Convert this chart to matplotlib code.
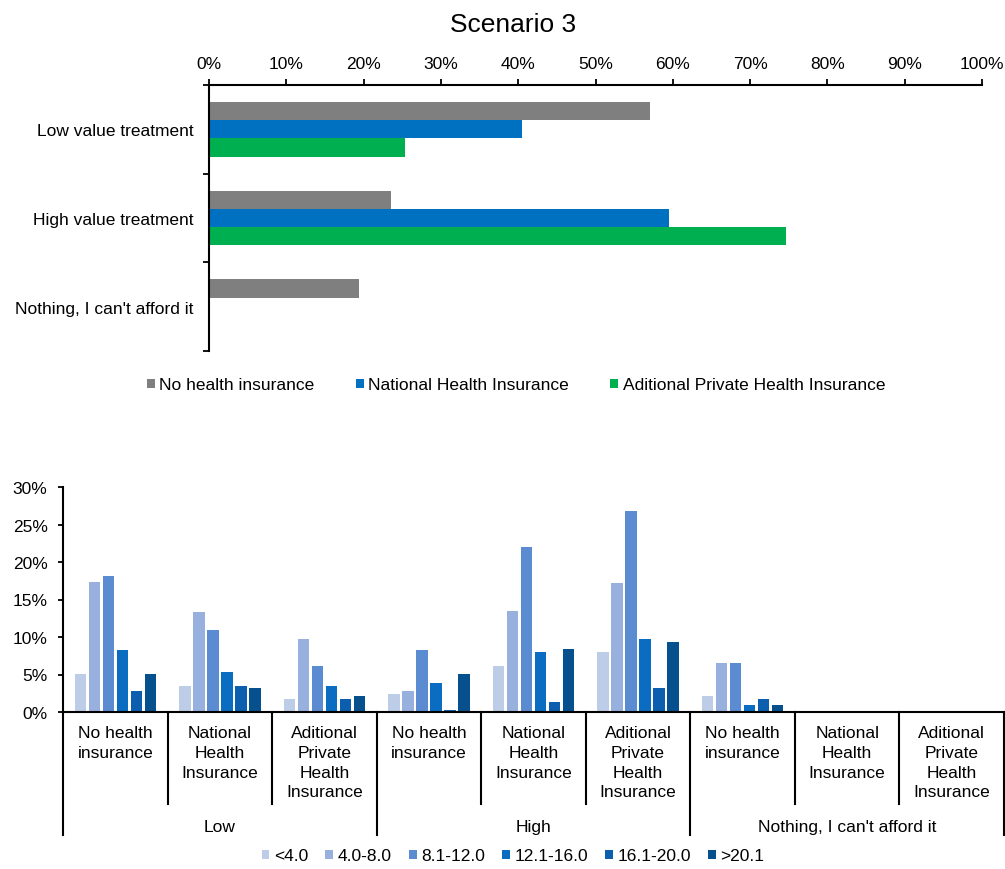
import matplotlib.pyplot as plt
import matplotlib.transforms as mtransforms
from matplotlib.ticker import PercentFormatter
import numpy as np

plt.rcParams['font.family'] = ['Liberation Sans', 'DejaVu Sans']
plt.rcParams['font.size'] = 12.5

# 上图数据 (%)
treatments = ['Low value treatment', 'High value treatment', "Nothing, I can't afford it"]
insurance = ['No health insurance', 'National Health Insurance', 'Aditional Private Health Insurance']
noInsurance = [57.0, 23.6, 19.4]
nationalInsurance = [40.5, 59.5, 0]
privateInsurance = [25.4, 74.6, 0]
topColors = ['#7F7F7F', '#0070C0', '#00B050']

# 下图数据 (%)
levels = ['Low', 'High', "Nothing, I can't afford it"]
subLabels = ['No health\ninsurance', 'National\nHealth\nInsurance', 'Aditional\nPrivate\nHealth\nInsurance']
bands = ['<4.0', '4.0-8.0', '8.1-12.0', '12.1-16.0', '16.1-20.0', '>20.1']
band1 = [5.1, 3.5, 1.7, 2.4, 6.1, 8.0, 2.1, 0, 0]
band2 = [17.4, 13.4, 9.7, 2.8, 13.5, 17.2, 6.5, 0, 0]
band3 = [18.2, 10.9, 6.1, 8.3, 22.0, 26.8, 6.5, 0, 0]
band4 = [8.3, 5.3, 3.5, 3.9, 8.0, 9.8, 1.0, 0, 0]
band5 = [2.8, 3.5, 1.7, 0.3, 1.4, 3.2, 1.7, 0, 0]
band6 = [5.1, 3.2, 2.1, 5.1, 8.4, 9.4, 1.0, 0, 0]
bandColors = ['#BDCDE8', '#97B0DD', '#5B8BD0', '#0A6DC2', '#0C5FAE', '#07508E']

W, H = 1005, 870
fig = plt.figure(figsize=(W / 100, H / 100), dpi=100)

# ---------- 上图 ----------
ax1 = fig.add_axes([209 / W, 1 - 352 / H, (982 - 209) / W, (352 - 86) / H])
y = np.arange(len(treatments))
h = 0.205
series = [noInsurance, nationalInsurance, privateInsurance]
handles1 = []
for k in range(3):
    b = ax1.barh(y + (k - 1) * h, series[k], height=h, color=topColors[k], label=insurance[k])
    handles1.append(b)
ax1.set_xlim(0, 100)
ax1.set_ylim(2.5, -0.5)
ax1.xaxis.tick_top()
ax1.set_xticks(np.arange(0, 101, 10))
ax1.xaxis.set_major_formatter(PercentFormatter(xmax=100, decimals=0))
ax1.set_yticks([-0.5, 0.5, 1.5, 2.5])
ax1.set_yticklabels([])
ax1.set_yticks(y, minor=True)
ax1.set_yticklabels(treatments, minor=True)
ax1.tick_params(axis='y', which='minor', length=0, pad=11)
ax1.tick_params(axis='y', which='major', length=4, width=1.3, direction='out')
ax1.tick_params(axis='x', length=4, width=1.3, direction='out', pad=6)
for s in ['right', 'bottom']:
    ax1.spines[s].set_visible(False)
for s in ['top', 'left']:
    ax1.spines[s].set_linewidth(1.5)

fig.text(513 / W, 1 - 25 / H, 'Scenario 3', fontsize=19, ha='center', va='center')
fig.legend(handles=handles1, labels=insurance, loc='center', bbox_to_anchor=(516 / W, 1 - 386 / H),
           ncol=3, frameon=False, handlelength=0.45, handleheight=0.45, handletextpad=0.25,
           columnspacing=2.4, fontsize=12.5)

# ---------- 下图 ----------
ax2 = fig.add_axes([63 / W, 1 - 713 / H, (1004 - 63) / W, (713 - 488) / H])
x = np.arange(9)
w = 0.134
bandValues = [band1, band2, band3, band4, band5, band6]
handles2 = []
for k in range(6):
    b = ax2.bar(x + (k - 2.5) * w, bandValues[k], width=w * 0.82, color=bandColors[k],
                linewidth=0, label=bands[k])
    handles2.append(b)
ax2.set_xlim(-0.5, 8.5)
ax2.set_ylim(0, 30)
ax2.set_yticks(np.arange(0, 31, 5))
ax2.yaxis.set_major_formatter(PercentFormatter(xmax=100, decimals=0))
ax2.tick_params(axis='y', length=3.6, width=1.3, direction='out', pad=7.5)
ax2.set_xticks([])
for s in ['right', 'top']:
    ax2.spines[s].set_visible(False)
for s in ['left', 'bottom']:
    ax2.spines[s].set_linewidth(1.5)

# 分层的类别标签
trans = mtransforms.blended_transform_factory(ax2.transData, ax2.transAxes)
innerLen = -92 / 225
outerLen = -123 / 225
for i in range(10):
    xs = i - 0.5
    yEnd = outerLen if i % 3 == 0 else innerLen
    ax2.plot([xs, xs], [0, yEnd], transform=trans, clip_on=False, color='black', lw=1.5)
for i in range(9):
    ax2.text(i, -13 / 225, subLabels[i % 3], transform=trans, ha='center', va='top',
             fontsize=12.5, linespacing=1.4)
for j in range(3):
    ax2.text(3 * j + 1, -115 / 225, levels[j], transform=trans, ha='center', va='center', fontsize=12.5)

fig.legend(handles=handles2, labels=bands, loc='center', bbox_to_anchor=(513 / W, 1 - 857 / H),
           ncol=6, frameon=False, handlelength=0.45, handleheight=0.45, handletextpad=0.25,
           columnspacing=1.0, fontsize=12.5)

plt.savefig('out.png', dpi=100)
